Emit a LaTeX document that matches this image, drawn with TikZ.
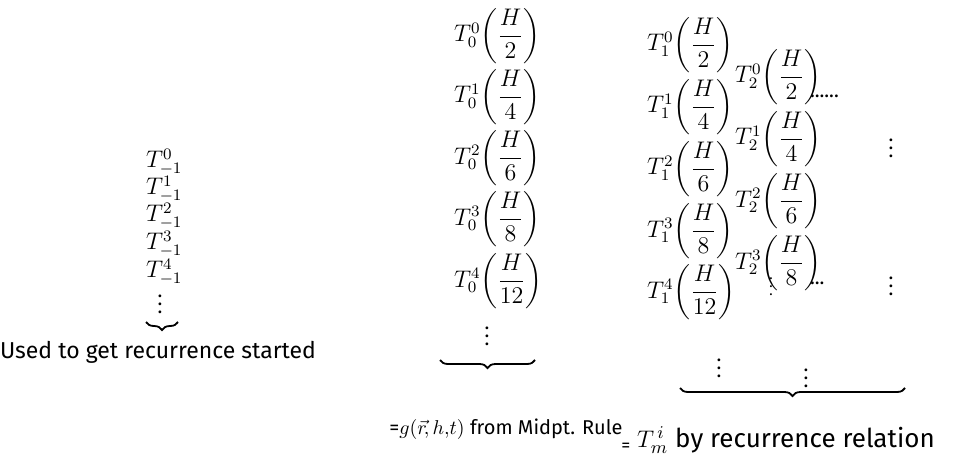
\documentclass[tikz,border=0pt]{standalone}
\usepackage{amsmath,amssymb}
\usepackage{fontspec}
\setmainfont{Fira Sans}
\usetikzlibrary{decorations.pathreplacing,positioning}

\begin{document}
\begin{tikzpicture}[x=0.5pt,y=-0.5pt,font=\fontsize{11.5}{14}\selectfont,
    every node/.style={inner sep=0pt,outer sep=0pt},
    term/.style={anchor=west,font=\fontsize{11.5}{14}\selectfont},
    dotsnode/.style={font=\normalsize},
    brc/.style={decorate,decoration={brace,mirror,amplitude=4pt},line width=0.9pt}]
        \useasboundingbox (0,0) rectangle (956,454);
        % starting values
        \node[term,font=\large] (s0) at (146,162) {$T_{-1}^{0}$};
        \node[term,font=\large] (s1) at (146,189) {$T_{-1}^{1}$};
        \node[term,font=\large] (s2) at (146,216) {$T_{-1}^{2}$};
        \node[term,font=\large] (s3) at (146,244) {$T_{-1}^{3}$};
        \node[term,font=\large] (s4) at (146,272) {$T_{-1}^{4}$};
        \node[dotsnode] (sd) at (160,298) {$\vdots$};
        \coordinate (sl) at (146,322);
        \coordinate (sr) at (178,322);
        \draw[brc] (sl) -- (sr);
        \node (stxt) at (158,352) {Used to get recurrence started};
        % midpoint rule
        \node[term] (m0) at (454,36) {$T_0^{0}\!\left(\dfrac{H}{2}\right)$};
        \node[term] (m1) at (454,97) {$T_0^{1}\!\left(\dfrac{H}{4}\right)$};
        \node[term] (m2) at (454,158) {$T_0^{2}\!\left(\dfrac{H}{6}\right)$};
        \node[term] (m3) at (454,219) {$T_0^{3}\!\left(\dfrac{H}{8}\right)$};
        \node[term] (m4) at (454,281) {$T_0^{4}\!\left(\dfrac{H}{12}\right)$};
        \node[dotsnode] (md) at (487,330) {$\vdots$};
        \coordinate (ml) at (440,360);
        \coordinate (mr) at (535,360);
        \draw[brc] (ml) -- (mr);
        \node[font=\fontsize{10}{12}\selectfont] (mtxt) at (506,429) {=$g(\vec{r}\!,h,\!t)$ from Midpt. Rule};
        % recurrence, first level
        \node[term] (r0) at (647,45) {$T_1^{0}\!\left(\dfrac{H}{2}\right)$};
        \node[term] (r1) at (647,107) {$T_1^{1}\!\left(\dfrac{H}{4}\right)$};
        \node[term] (r2) at (647,169) {$T_1^{2}\!\left(\dfrac{H}{6}\right)$};
        \node[term] (r3) at (647,231) {$T_1^{3}\!\left(\dfrac{H}{8}\right)$};
        \node[term] (r4) at (647,292) {$T_1^{4}\!\left(\dfrac{H}{12}\right)$};
        \node[dotsnode] (rd) at (719,362) {$\vdots$};
        % recurrence, second level
        \node[term] (q0) at (735,77) {$T_2^{0}\!\left(\dfrac{H}{2}\right)$};
        \node[term] (q1) at (735,139) {$T_2^{1}\!\left(\dfrac{H}{4}\right)$};
        \node[term] (q2) at (735,201) {$T_2^{2}\!\left(\dfrac{H}{6}\right)$};
        \node[term] (q3) at (735,263) {$T_2^{3}\!\left(\dfrac{H}{8}\right)$};
        \node[font=\scriptsize] (qi) at (771,281) {$\vdots$};
        \node[dotsnode] (qd) at (806,372) {$\vdots$};
        \node[dotsnode,anchor=base west] (e0) at (810,98) {......};
        \node[dotsnode] (e1) at (891,142) {$\vdots$};
        \node[dotsnode,anchor=base west] (e2) at (810,284) {...};
        \node[dotsnode] (e3) at (891,280) {$\vdots$};
        \coordinate (rl) at (680,388);
        \coordinate (rr) at (905,388);
        \draw[brc] (rl) -- (rr);
        \node[font=\fontsize{13}{15}\selectfont] (rtxt) at (778,440) {\raisebox{-2pt}{\small=} $T_m^{\,i}$ by recurrence relation};
      \end{tikzpicture}
\end{document}
